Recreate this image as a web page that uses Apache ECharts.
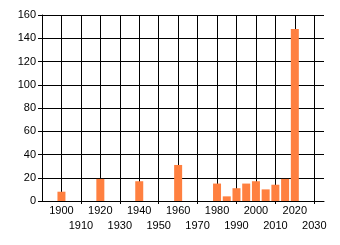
<!DOCTYPE html>
<html>
<head>
<meta charset="utf-8">
<script src="https://cdn.jsdelivr.net/npm/echarts@6/dist/echarts.min.js"></script>
<style>
    html, body { margin: 0; padding: 0; background: #fff; }
    #chart { width: 340px; height: 245px; }
</style>
</head>
<body>
<div id="chart"></div>
<script>
    var years = [1900, 1920, 1940, 1960, 1980, 1985, 1990, 1995, 2000, 2005, 2010, 2015, 2020];
    var counts = [8, 19, 17, 31, 15, 4, 11, 15, 17, 10, 14, 19, 148];
    var decadeTicks = [1900, 1910, 1920, 1930, 1940, 1950, 1960, 1970, 1980, 1990, 2000, 2010, 2020, 2030];
    var evenDecades = [1900, 1920, 1940, 1960, 1980, 2000, 2020];
    var oddDecades = [1910, 1930, 1950, 1970, 1990, 2010, 2030];
    var yTicks = [0, 20, 40, 60, 80, 100, 120, 140, 160];

    var font = 'Liberation Sans, Arial, sans-serif';
    var chart = echarts.init(document.getElementById('chart'));

    // bars placed on a value axis, one pair per year
    var barData = years.map(function (y, i) { return [y, counts[i]]; });

    function labelStyle(values, margin) {
        return {
            customValues: values,
            showMinLabel: true,
            showMaxLabel: true,
            hideOverlap: false,
            color: '#000',
            fontFamily: font,
            fontSize: 11,
            margin: margin,
            formatter: function (v) { return String(v); }
        };
    }

    chart.setOption({
        animation: false,
        grid: { left: 42, top: 15, right: 16, bottom: 44 },
        xAxis: [
            {
                // axis line, short ticks and the upper row of labels
                type: 'value',
                min: 1890,
                max: 2035,
                axisLine: { show: true, lineStyle: { color: '#000', width: 1 } },
                axisTick: { show: true, length: 3, customValues: oddDecades, lineStyle: { color: '#000' } },
                splitLine: { show: false },
                axisLabel: labelStyle(evenDecades, 4)
            },
            {
                // vertical gridlines only
                type: 'value',
                position: 'bottom',
                min: 1890,
                max: 2035,
                axisLine: { show: false },
                axisTick: { show: false, customValues: decadeTicks },
                axisLabel: { show: false, customValues: decadeTicks },
                splitLine: { show: true, lineStyle: { color: '#000', width: 1 } }
            },
            {
                // lower row of labels
                type: 'value',
                position: 'bottom',
                min: 1890,
                max: 2035,
                axisLine: { show: false },
                axisTick: { show: false, customValues: oddDecades },
                splitLine: { show: false },
                axisLabel: labelStyle(oddDecades, 19)
            }
        ],
        yAxis: {
            type: 'value',
            min: yTicks[0],
            max: yTicks[yTicks.length - 1],
            interval: 20,
            axisLine: { show: true, lineStyle: { color: '#000', width: 1 } },
            axisTick: { show: true, length: 4, lineStyle: { color: '#000' } },
            splitLine: { show: true, lineStyle: { color: '#000', width: 1 } },
            axisLabel: { color: '#000', fontFamily: font, fontSize: 11, margin: 6 }
        },
        series: [
            {
                type: 'bar',
                xAxisIndex: 0,
                data: barData,
                barWidth: 8,
                itemStyle: { color: '#ff8040' }
            }
        ]
    });
</script>
</body>
</html>
